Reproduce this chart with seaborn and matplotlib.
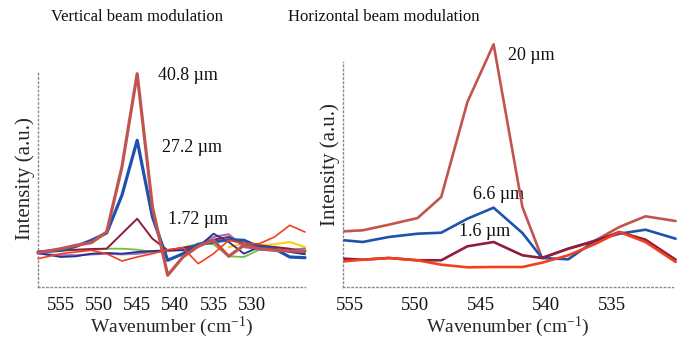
import numpy as np
import pandas as pd
import matplotlib
matplotlib.use("Agg")
import matplotlib.pyplot as plt
import seaborn as sns

# ---------------- data: left panel (vertical beam modulation) ----------------
wn_left = [558, 555, 553, 551, 549, 547, 545, 543, 541, 539, 537, 535, 533, 531, 529, 527, 525, 523]
v_408 = [34.3, 38.3, 41.7, 44.3, 55.0, 120.0, 213.3, 80.0, 11.7, 30.0, 40.7, 46.7, 30.7, 41.7, 38.3, 36.7, 36.0, 36.0]
v_272 = [35.0, 36.7, 40.7, 46.7, 54.0, 91.7, 146.7, 70.0, 26.7, 33.3, 42.7, 45.0, 47.3, 46.7, 40.0, 38.3, 30.0, 29.3]
v_172 = [35.0, 36.7, 37.3, 38.0, 38.3, 53.3, 68.3, 48.3, 36.7, 39.3, 41.7, 47.3, 50.0, 43.3, 41.7, 40.0, 38.3, 35.0]
v_red = [28.3, 33.3, 35.0, 36.7, 33.3, 26.0, 30.0, 33.3, 37.3, 39.3, 23.3, 33.3, 46.7, 43.3, 43.3, 50.0, 61.7, 55.0]
v_green = [35.0, 36.0, 36.7, 37.3, 38.3, 38.3, 37.3, 35.0, 35.7, 39.3, 43.3, 42.7, 30.7, 30.0, 37.3, 40.0, 37.3, 33.3]
v_purple = [33.3, 31.7, 31.7, 32.7, 33.3, 32.7, 33.3, 35.0, 36.0, 37.3, 41.7, 50.0, 52.7, 40.0, 37.3, 36.7, 37.3, 38.3]
v_navy = [34.0, 30.0, 30.7, 33.3, 34.0, 33.3, 35.0, 36.0, 36.7, 36.7, 40.0, 53.3, 45.0, 33.3, 40.0, 38.3, 35.0, 32.7]
wn_yellow = [533, 531, 529, 527, 525, 523]
v_yellow = [40.0, 43.3, 41.7, 42.7, 45.0, 40.0]

left_ticks = [555, 550, 545, 540, 535, 530]
left_labels = ["40.8 \u00b5m", "27.2 \u00b5m", "1.72 \u00b5m"]

# ---------------- data: right panel (horizontal beam modulation) ----------------
wn_right = [555.4, 554.0, 552.0, 549.8, 548.0, 546.0, 544.0, 541.8, 540.3, 538.3, 536.2, 534.4, 532.4, 530.1]
h_20 = [55.7, 56.7, 62.3, 69.0, 90.0, 185.0, 242.7, 80.0, 29.0, 38.3, 46.7, 60.0, 70.7, 66.0]
h_66 = [46.7, 45.0, 50.0, 53.3, 54.3, 68.3, 79.3, 54.0, 29.0, 27.7, 46.7, 53.3, 57.3, 48.3]
h_16 = [28.3, 27.3, 29.0, 26.7, 26.7, 40.7, 45.0, 31.7, 29.0, 38.3, 46.0, 55.0, 47.3, 27.3]
h_red = [25.7, 27.3, 29.0, 26.7, 22.3, 19.7, 20.0, 20.0, 24.3, 31.7, 43.3, 55.0, 45.0, 25.0]

right_ticks = [555, 550, 545, 540, 535]
right_labels = ["20 \u00b5m", "6.6 \u00b5m", "1.6 \u00b5m"]

titles = ["Vertical beam modulation", "Horizontal beam modulation"]
xlabel = "Wavenumber (cm$^{-1}$)"
ylabel = "Intensity (a.u.)"

# ---------------- style ----------------
sns.set_theme(style="white")
plt.rcParams["font.family"] = ["Liberation Serif", "DejaVu Serif"]
plt.rcParams["mathtext.fontset"] = "custom"
plt.rcParams["mathtext.rm"] = "Liberation Serif"
plt.rcParams["mathtext.it"] = "Liberation Serif:italic"

W, H = 682, 339
fig = plt.figure(figsize=(W / 100, H / 100), dpi=100)
fig.patch.set_facecolor("white")

def fx(px):
    return px / W

def fy(py):
    return 1 - py / H

axL = fig.add_axes([fx(38), fy(287), fx(305 - 38), 216 / H])
axR = fig.add_axes([fx(343), fy(287), fx(673 - 343), 245 / H])

C_LRED = "#c25450"
C_BLUE = "#1f52ad"
C_DRED = "#8f1d3c"
C_RED = "#f2401f"
C_GREEN = "#72bf44"
C_PURPLE = "#9a70c0"
C_NAVY = "#262f8f"
C_YELLOW = "#f7d516"

def draw(ax, x, y, color, lw, z):
    df = pd.DataFrame({"x": x, "y": y})
    sns.lineplot(data=df, x="x", y="y", color=color, linewidth=lw, ax=ax,
                 sort=False, estimator=None, zorder=z)

# left panel
draw(axL, wn_yellow, v_yellow, C_YELLOW, 1.6, 2)
draw(axL, wn_left, v_green, C_GREEN, 1.3, 3)
draw(axL, wn_left, v_purple, C_PURPLE, 1.6, 4)
draw(axL, wn_left, v_navy, C_NAVY, 1.3, 5)
draw(axL, wn_left, v_172, C_DRED, 1.4, 6)
draw(axL, wn_left, v_272, C_BLUE, 2.3, 7)
draw(axL, wn_left, v_408, C_LRED, 2.3, 8)
draw(axL, wn_left, v_red, C_RED, 1.2, 9)

# right panel
draw(axR, wn_right, h_20, C_LRED, 1.9, 5)
draw(axR, wn_right, h_66, C_BLUE, 1.9, 6)
draw(axR, wn_right, h_16, C_DRED, 1.9, 7)
draw(axR, wn_right, h_red, C_RED, 1.9, 8)

axL.set_xlim(558, 523)
axL.set_ylim(0, 216)
axR.set_xlim(555.5, 530.3)
axR.set_ylim(0, 245)

axL.set_xticks(left_ticks)
axR.set_xticks(right_ticks)

for ax, title, tx in ((axL, titles[0], 137), (axR, titles[1], 384)):
    ax.set_yticks([])
    ax.set_xlabel(xlabel, fontsize=14, labelpad=0.5)
    ax.set_ylabel(ylabel, fontsize=15, labelpad=2)
    ax.tick_params(axis="x", length=0, pad=7, labelsize=13.5, colors="#111111")
    for s in ("top", "right"):
        ax.spines[s].set_visible(False)
    for s in ("left", "bottom"):
        ax.spines[s].set_visible(True)
        ax.spines[s].set_color("#8a8a8a")
        ax.spines[s].set_linestyle((0, (1, 2)))
        ax.spines[s].set_linewidth(1.0)
    ax.set_facecolor("none")
    fig.text(fx(tx), fy(17), title, ha="center", va="center", fontsize=12, color="#111111")

axR.spines["left"].set_bounds(0, 225)
axL.spines["left"].set_bounds(0, 214)

# annotations
for (x, y), t in zip([(542.3, 212), (541.75, 139), (541.0, 67)], left_labels):
    axL.text(x, y, t, fontsize=13, ha="left", va="center", color="#111111")
for (x, y), t in zip([(542.9, 231), (545.6, 92), (546.65, 55)], right_labels):
    axR.text(x, y, t, fontsize=13, ha="left", va="center", color="#111111")

for line in axL.lines + axR.lines:
    line.set_clip_on(False)

fig.savefig("out.png", dpi=100, facecolor="white")
